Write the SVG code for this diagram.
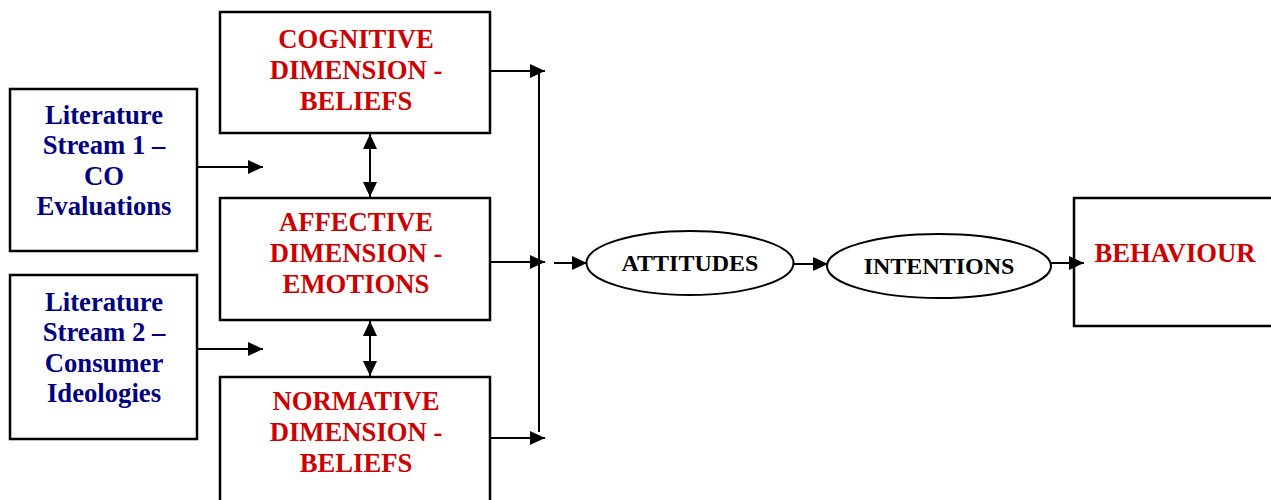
<svg xmlns="http://www.w3.org/2000/svg" width="1271" height="500" viewBox="0 0 1271 500">
<style>
.box{fill:#fff;stroke:#000;stroke-width:2.5}
.ell{fill:#fff;stroke:#000;stroke-width:2}
.ln{fill:none;stroke:#000;stroke-width:2}
text{font-family:"Liberation Serif","Times New Roman",serif;font-weight:bold;text-anchor:middle}
.red{fill:#CC0000;font-size:26.7px}
.blue{fill:#000080;font-size:26.7px}
.blk{fill:#000;font-size:24px}
</style>
<defs>
<marker id="ah" viewBox="0 0 15 14" refX="15" refY="7" markerWidth="15" markerHeight="14" markerUnits="userSpaceOnUse" orient="auto-start-reverse">
<path d="M0,0 L15,7 L0,14 Z" fill="#000"/>
</marker>
</defs>
<rect width="1271" height="500" fill="#fff"/>
<g id="lit1">
<rect class="box" x="10" y="89" width="187" height="162"/>
<text class="blue" x="104" y="124">Literature</text>
<text class="blue" x="104" y="154">Stream 1 –</text>
<text class="blue" x="104" y="185">CO</text>
<text class="blue" x="104" y="215">Evaluations</text>
</g>
<g id="lit2">
<rect class="box" x="10" y="275" width="187" height="164"/>
<text class="blue" x="104" y="311">Literature</text>
<text class="blue" x="104" y="341">Stream 2 –</text>
<text class="blue" x="104" y="372">Consumer</text>
<text class="blue" x="104" y="402">Ideologies</text>
</g>
<g id="cognitive">
<rect class="box" x="220" y="12" width="270" height="121"/>
<text class="red" x="356" y="48">COGNITIVE</text>
<text class="red" x="356" y="79">DIMENSION -</text>
<text class="red" x="356" y="110">BELIEFS</text>
</g>
<g id="affective">
<rect class="box" x="220" y="198" width="270" height="122"/>
<text class="red" x="356" y="231">AFFECTIVE</text>
<text class="red" x="356" y="262">DIMENSION -</text>
<text class="red" x="356" y="293">EMOTIONS</text>
</g>
<g id="normative">
<rect class="box" x="220" y="377" width="270" height="130"/>
<text class="red" x="356" y="410">NORMATIVE</text>
<text class="red" x="356" y="441">DIMENSION -</text>
<text class="red" x="356" y="472">BELIEFS</text>
</g>
<g id="attitudes">
<ellipse class="ell" cx="690" cy="263" rx="103.5" ry="32"/>
<text class="blk" x="690" y="271">ATTITUDES</text>
</g>
<g id="intentions">
<ellipse class="ell" cx="939" cy="266" rx="112" ry="32"/>
<text class="blk" x="939" y="274">INTENTIONS</text>
</g>
<g id="behaviour">
<rect class="box" x="1074" y="198" width="210" height="128"/>
<text class="red" x="1175" y="262">BEHAVIOUR</text>
</g>
<g id="connectors">
<line class="ln" x1="198" y1="167" x2="263" y2="167" marker-end="url(#ah)"/>
<line class="ln" x1="198" y1="349" x2="263" y2="349" marker-end="url(#ah)"/>
<line class="ln" x1="370" y1="134" x2="370" y2="197" marker-start="url(#ah)" marker-end="url(#ah)"/>
<line class="ln" x1="370" y1="321" x2="370" y2="376" marker-start="url(#ah)" marker-end="url(#ah)"/>
<line class="ln" x1="539" y1="71" x2="539" y2="432"/>
<line class="ln" x1="491" y1="71" x2="545" y2="71" marker-end="url(#ah)"/>
<line class="ln" x1="491" y1="262" x2="545" y2="262" marker-end="url(#ah)"/>
<line class="ln" x1="491" y1="438" x2="545" y2="438" marker-end="url(#ah)"/>
<line class="ln" x1="554" y1="263" x2="587" y2="263" marker-end="url(#ah)"/>
<line class="ln" x1="794" y1="264" x2="828" y2="264" marker-end="url(#ah)"/>
<line class="ln" x1="1051" y1="263" x2="1084" y2="263" marker-end="url(#ah)"/>
</g>
</svg>
